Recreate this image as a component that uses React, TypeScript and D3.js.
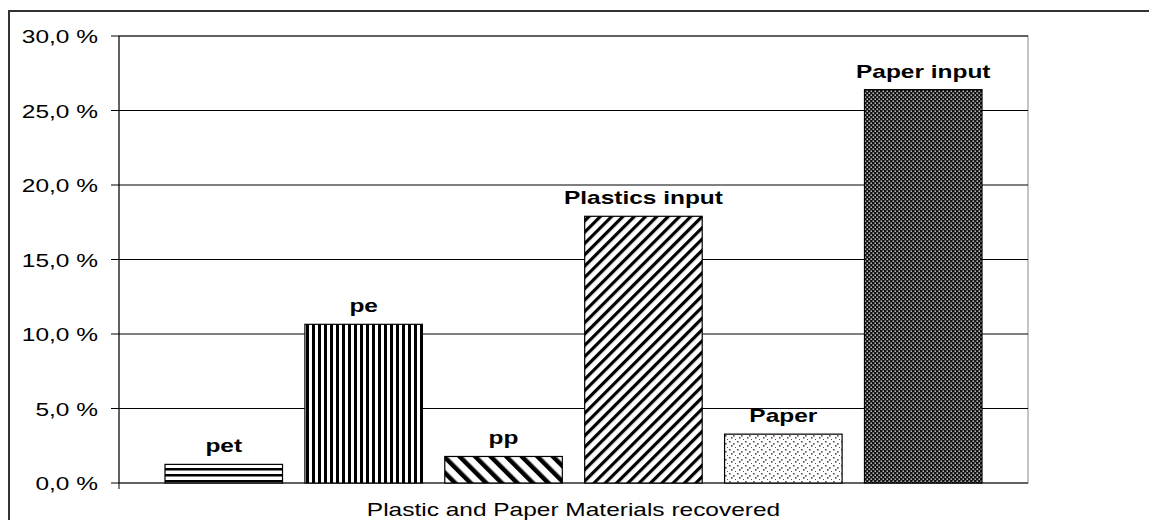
import React from "react";
import * as d3 from "d3";

const categories = ["pet", "pe", "pp", "Plastics input", "Paper", "Paper input"];
const values = [1.25, 10.65, 1.78, 17.9, 3.28, 26.4];
const patternIds = ["pHoriz", "pVert", "pDiagDown", "pDiagUp", "pDots", "pDense"];
const yTicks = [0, 5, 10, 15, 20, 25, 30];
const axisTitle = "Plastic and Paper Materials recovered";

const SX = 1.36;

export default function App() {
  const W = 1149, H = 520;
  const left = 119, right = 1028, top = 36, bottom = 483;
  const y = d3.scaleLinear().domain([0, 30]).range([bottom, top]);
  const x = d3.scaleBand().domain(categories).range([left + 46, right - 46]).paddingInner(0.16).paddingOuter(0);
  const fmt = (v: number) => v.toFixed(1).replace(".", ",") + " %";
  const font = "Liberation Sans, Arial, sans-serif";
  return (
    <svg width={W} height={H} style={{ position: "absolute", left: 0, top: 0 }}>
      <defs>
        <pattern id="pHoriz" patternUnits="userSpaceOnUse" width={6} height={6}>
          <rect width={6} height={6} fill="#fff" />
          <rect y={0} width={6} height={2.5} fill="#000" />
        </pattern>
        <pattern id="pVert" patternUnits="userSpaceOnUse" width={6} height={6}>
          <rect width={6} height={6} fill="#fff" />
          <rect x={0} width={3} height={6} fill="#000" />
        </pattern>
        <pattern id="pDiagDown" patternUnits="userSpaceOnUse" width={11} height={11} patternTransform="rotate(-45)">
          <rect width={11} height={11} fill="#fff" />
          <rect x={0} width={4.5} height={11} fill="#000" />
        </pattern>
        <pattern id="pDiagUp" patternUnits="userSpaceOnUse" width={8} height={8} patternTransform="rotate(45)">
          <rect width={8} height={8} fill="#fff" />
          <rect x={0} width={3.2} height={8} fill="#000" />
        </pattern>
        <pattern id="pDots" patternUnits="userSpaceOnUse" width={8} height={8}>
          <rect width={8} height={8} fill="#fff" />
          <rect x={1} y={1} width={1.6} height={1.6} fill="#555" />
          <rect x={5} y={3} width={1.6} height={1.6} fill="#555" />
          <rect x={3} y={5} width={1.6} height={1.6} fill="#555" />
          <rect x={7} y={7} width={1.6} height={1.6} fill="#555" />
        </pattern>
        <pattern id="pDense" patternUnits="userSpaceOnUse" width={4} height={4}>
          <rect width={4} height={4} fill="#111" />
          <rect x={0.5} y={0.5} width={1.6} height={1.3} fill="#ddd" />
          <rect x={2.5} y={2.5} width={1.6} height={1.3} fill="#ddd" />
        </pattern>
      </defs>
      <rect x={9} y={11} width={W + 10} height={H + 10} fill="#fff" stroke="#333" strokeWidth={2} />
      <rect x={left} y={top} width={right - left} height={bottom - top} fill="none" stroke="#888" strokeWidth={1} />
      {yTicks.map((t) => (
        <g key={t}>
          <line x1={left - 8} x2={right} y1={y(t)} y2={y(t)} stroke="#000" strokeWidth={1} />
          <text transform={`translate(98,${y(t) + 7}) scale(${SX},1)`} textAnchor="end" fontFamily={font} fontSize={18} fill="#000">
            {fmt(t)}
          </text>
        </g>
      ))}
      <line x1={left} x2={left} y1={top} y2={bottom + 6} stroke="#000" strokeWidth={1} />
      {categories.map((c, i) => {
        const bx = x(c)!;
        const by = y(values[i]);
        return (
          <g key={c}>
            <rect x={bx} y={by} width={x.bandwidth()} height={bottom - by} fill={`url(#${patternIds[i]})`} stroke="#000" strokeWidth={1.2} />
            <text transform={`translate(${bx + x.bandwidth() / 2},${by - 12}) scale(${SX},1)`} textAnchor="middle" fontFamily={font} fontWeight="bold" fontSize={18} fill="#000">
              {c}
            </text>
          </g>
        );
      })}
      <text transform={`translate(${(left + right) / 2},516) scale(${SX},1)`} textAnchor="middle" fontFamily={font} fontSize={18} fill="#000">
        {axisTitle}
      </text>
    </svg>
  );
}
